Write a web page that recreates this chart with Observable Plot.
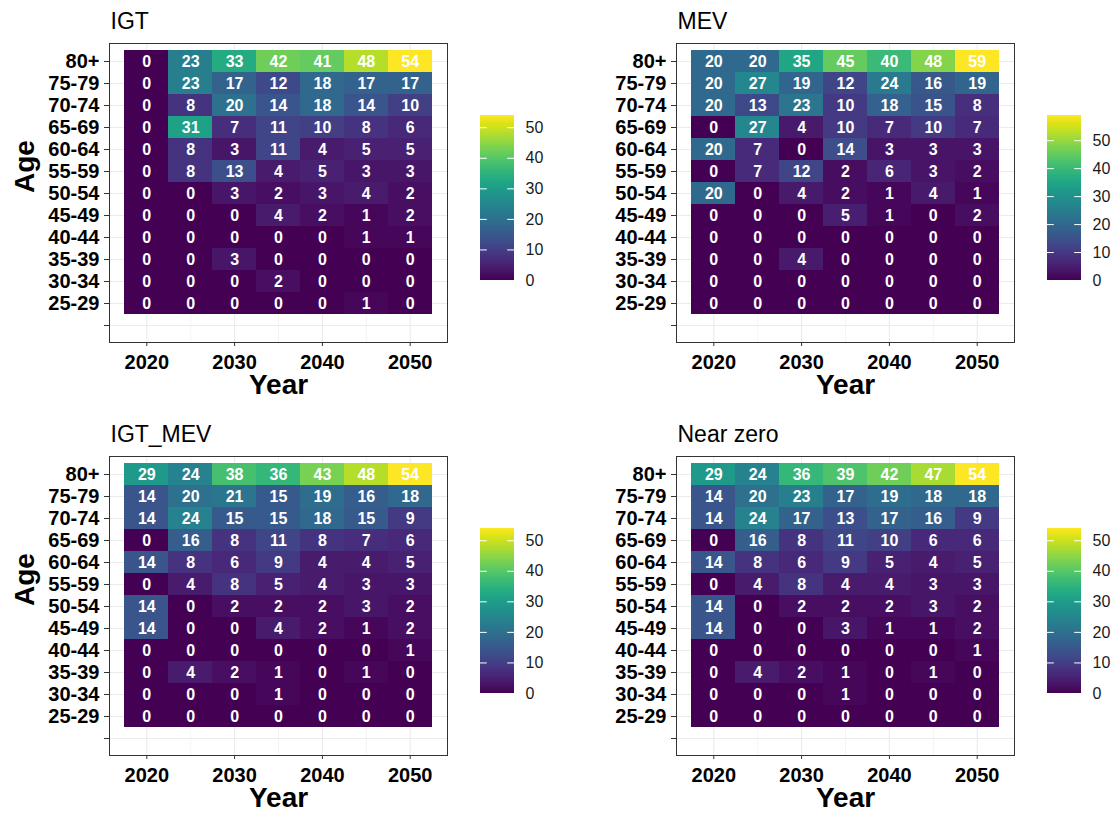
<!DOCTYPE html>
<html><head><meta charset="utf-8">
<script src="https://cdn.jsdelivr.net/npm/d3@7"></script>
<script src="https://cdn.jsdelivr.net/npm/@observablehq/plot@0.6"></script>
<style>
body{margin:0;background:#fff;}
#root{position:relative;width:1117px;height:814px;overflow:hidden;background:#fff;}
.abs{position:absolute;}
</style></head><body><div id="root"></div>
<script>
// ---------- data ----------
const years = [2020, 2025, 2030, 2035, 2040, 2045, 2050];
const yearTicks = [2020, 2030, 2040, 2050];
const minorYearTicks = [2025, 2035, 2045];
const ageGroups = ["80+", "75-79", "70-74", "65-69", "60-64", "55-59", "50-54", "45-49", "40-44", "35-39", "30-34", "25-29"];
const blankAgeLevel = "";
const legendTicks = [0, 10, 20, 30, 40, 50];
const panelTitles = ["IGT", "MEV", "IGT_MEV", "Near zero"];
const xLabel = "Year";
const yLabel = "Age";

// rows follow ageGroups (80+ first), columns follow years
const igt = [
  [0, 23, 33, 42, 41, 48, 54],
  [0, 23, 17, 12, 18, 17, 17],
  [0, 8, 20, 14, 18, 14, 10],
  [0, 31, 7, 11, 10, 8, 6],
  [0, 8, 3, 11, 4, 5, 5],
  [0, 8, 13, 4, 5, 3, 3],
  [0, 0, 3, 2, 3, 4, 2],
  [0, 0, 0, 4, 2, 1, 2],
  [0, 0, 0, 0, 0, 1, 1],
  [0, 0, 3, 0, 0, 0, 0],
  [0, 0, 0, 2, 0, 0, 0],
  [0, 0, 0, 0, 0, 1, 0]
];
const mev = [
  [20, 20, 35, 45, 40, 48, 59],
  [20, 27, 19, 12, 24, 16, 19],
  [20, 13, 23, 10, 18, 15, 8],
  [0, 27, 4, 10, 7, 10, 7],
  [20, 7, 0, 14, 3, 3, 3],
  [0, 7, 12, 2, 6, 3, 2],
  [20, 0, 4, 2, 1, 4, 1],
  [0, 0, 0, 5, 1, 0, 2],
  [0, 0, 0, 0, 0, 0, 0],
  [0, 0, 4, 0, 0, 0, 0],
  [0, 0, 0, 0, 0, 0, 0],
  [0, 0, 0, 0, 0, 0, 0]
];
const igtMev = [
  [29, 24, 38, 36, 43, 48, 54],
  [14, 20, 21, 15, 19, 16, 18],
  [14, 24, 15, 15, 18, 15, 9],
  [0, 16, 8, 11, 8, 7, 6],
  [14, 8, 6, 9, 4, 4, 5],
  [0, 4, 8, 5, 4, 3, 3],
  [14, 0, 2, 2, 2, 3, 2],
  [14, 0, 0, 4, 2, 1, 2],
  [0, 0, 0, 0, 0, 0, 1],
  [0, 4, 2, 1, 0, 1, 0],
  [0, 0, 0, 1, 0, 0, 0],
  [0, 0, 0, 0, 0, 0, 0]
];
const nearZero = [
  [29, 24, 36, 39, 42, 47, 54],
  [14, 20, 23, 17, 19, 18, 18],
  [14, 24, 17, 13, 17, 16, 9],
  [0, 16, 8, 11, 10, 6, 6],
  [14, 8, 6, 9, 5, 4, 5],
  [0, 4, 8, 4, 4, 3, 3],
  [14, 0, 2, 2, 2, 3, 2],
  [14, 0, 0, 3, 1, 1, 2],
  [0, 0, 0, 0, 0, 0, 1],
  [0, 4, 2, 1, 0, 1, 0],
  [0, 0, 0, 1, 0, 0, 0],
  [0, 0, 0, 0, 0, 0, 0]
];
const panelMatrices = [igt, mev, igtMev, nearZero];

// ---------- layout ----------
const FONT = '"Liberation Sans", Arial, Helvetica, sans-serif';
const panelOrigins = [[0, 0], [567, 0], [0, 413], [567, 413]];
const root = document.getElementById("root");

function place(el, left, top) {
  el.classList.add("abs");
  el.style.left = left + "px";
  el.style.top = top + "px";
  root.appendChild(el);
}

function makePanel(idx) {
  const title = panelTitles[idx];
  const matrix = panelMatrices[idx];
  const [ox, oy] = panelOrigins[idx];
  const showAge = idx % 2 === 0;
  const data = ageGroups.flatMap((age, i) => years.map((year, j) => ({age, year, value: matrix[i][j]})));
  const vmax = d3.max(data, d => d.value);
  const half = (years[1] - years[0]) / 2;
  const lo = d3.min(years) - half, hi = d3.max(years) + half;
  const pad = 0.05 * (hi - lo);

  const marks = [
    Plot.gridX({ticks: yearTicks, stroke: "#ebebeb", strokeOpacity: 1, strokeWidth: 1.1}),
    Plot.gridX({ticks: minorYearTicks, stroke: "#ebebeb", strokeOpacity: 1, strokeWidth: 0.55}),
    Plot.gridY({stroke: "#ebebeb", strokeOpacity: 1, strokeWidth: 1.1}),
    Plot.barX(data, {x1: d => d.year - half, x2: d => d.year + half, y: "age", fill: "value", shapeRendering: "crispEdges"}),
    Plot.text(data, {x: "year", y: "age", text: d => String(d.value), fill: "white", fontWeight: "bold", fontSize: 16}),
    Plot.axisX({ticks: yearTicks, tickFormat: "d", tickSize: 4, tickPadding: 8, fontSize: 20, fontWeight: "bold", label: null, stroke: "#333", fill: "black"}),
    Plot.axisY({tickSize: 5, tickPadding: 5, fontSize: 20, fontWeight: "bold", label: null, stroke: "#333", fill: "black"}),
    Plot.text([title], {text: d => d, frameAnchor: "top-left", dx: 1, dy: -15, lineAnchor: "bottom", textAnchor: "start", fontSize: 23, fill: "black"}),
    Plot.text([xLabel], {text: d => d, frameAnchor: "bottom", dy: 51, lineAnchor: "bottom", fontSize: 28, fontWeight: "bold", fill: "black"}),
    Plot.frame({stroke: "#333333", strokeWidth: 1})
  ];
  if (showAge) {
    marks.push(Plot.text([yLabel], {text: d => d, frameAnchor: "left", dx: -84, rotate: -90, fontSize: 28, fontWeight: "bold", fill: "black"}));
  }

  const main = Plot.plot({
    width: 550, height: 407,
    marginLeft: 109, marginRight: 103, marginTop: 43, marginBottom: 65,
    style: {fontFamily: FONT, color: "black", background: "white", overflow: "visible"},
    x: {domain: [lo - pad, hi + pad]},
    y: {type: "band", domain: [...ageGroups, blankAgeLevel], paddingInner: 0, paddingOuter: 0.1},
    color: {type: "linear", scheme: "viridis", domain: [0, vmax]},
    marks
  });
  place(main, ox, oy);

  // vertical colorbar legend
  const n = 200;
  const steps = d3.range(n).map(i => vmax * i / n);
  const shownTicks = legendTicks.filter(t => t <= vmax);
  const bar = Plot.plot({
    width: 74, height: 185,
    marginLeft: 0, marginRight: 40, marginTop: 10, marginBottom: 10,
    style: {fontFamily: FONT, color: "#1a1a1a", background: "transparent", overflow: "visible"},
    x: {domain: [0, 1], axis: null},
    y: {domain: [0, vmax]},
    color: {type: "linear", scheme: "viridis", domain: [0, vmax]},
    marks: [
      Plot.rect(steps, {x1: 0, x2: 1, y1: d => d, y2: d => Math.min(vmax, d + vmax / n * 1.5), fill: d => d, shapeRendering: "crispEdges"}),
      Plot.ruleY(shownTicks, {x1: 0, x2: 0.2, stroke: "white", strokeWidth: 1}),
      Plot.ruleY(shownTicks, {x1: 0.8, x2: 1, stroke: "white", strokeWidth: 1}),
      Plot.axisY({anchor: "right", ticks: shownTicks, tickSize: 0, tickPadding: 11, fontSize: 16, label: null})
    ]
  });
  place(bar, ox + 480, oy + 105);
}

panelTitles.forEach((_, i) => makePanel(i));
</script>
</body></html>
